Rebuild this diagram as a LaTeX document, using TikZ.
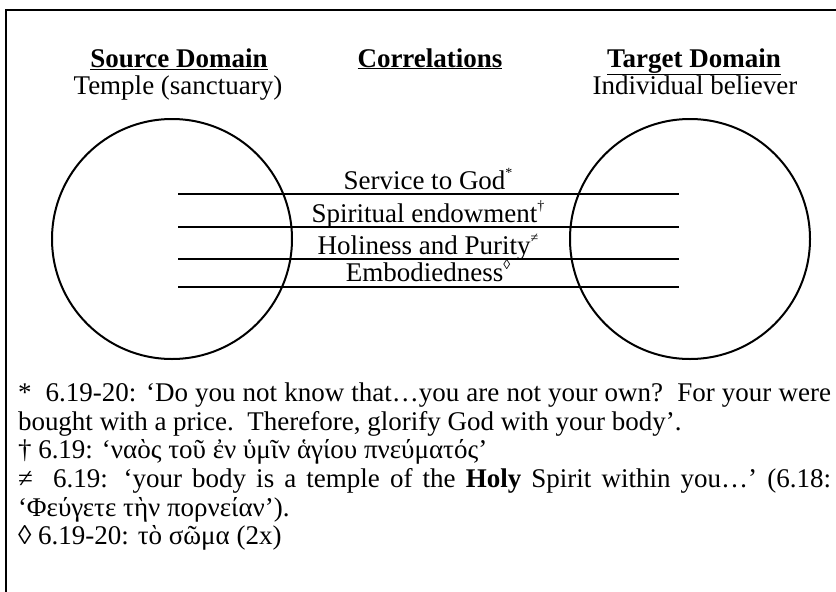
\documentclass[tikz,border=0pt]{standalone}
\usepackage{fontspec}
\setmainfont{Liberation Serif}
\begin{document}
\begin{tikzpicture}[x=1pt,y=-1pt,
  every node/.style={inner sep=0pt,outer sep=0pt,font=\fontsize{27}{29}\selectfont},
  domaincircle/.style={circle,draw,line width=2pt,minimum size=240pt},
  headtext/.style={anchor=base,font=\fontsize{27}{29}\selectfont\bfseries},
  subtext/.style={anchor=base},
  corrtext/.style={anchor=base},
  notetext/.style={anchor=base west},
  corrline/.style={line width=2pt}]
\newcommand\fnmark[1]{\raisebox{12pt}{\fontsize{14}{14}\selectfont #1}}
\clip (0,0) rectangle (836,592);
\fill[white] (0,0) rectangle (836,592);
% outer frame, running past the right and bottom edges
\draw[line width=2pt] (6,640) -- (6,10) -- (900,10);

% column headings
\node[headtext] (src) at (179,67) {\underline{Source Domain}};
\node[subtext] (srcsub) at (178,94) {Temple (sanctuary)};
\node[headtext] (cor) at (430,67) {\underline{Correlations}};
\node[headtext] (tgt) at (694,67) {\underline{Target Domain}};
\node[subtext] (tgtsub) at (695,94) {Individual believer};

% the two domains
\node[domaincircle] (left) at (172,239) {};
\node[domaincircle] (right) at (690,239) {};

% correlation lines
\foreach \i/\y in {1/194,2/227,3/259,4/287}{
  \coordinate (a\i) at (178,\y);
  \coordinate (b\i) at (679,\y);
  \draw[corrline] (a\i) -- (b\i);
}

% correlation labels
\node[corrtext] (c1) at (428,189) {Service to God\fnmark{*}};
\node[corrtext] (c2) at (428,222) {Spiritual endowment\fnmark{†}};
\node[corrtext] (c3) at (428,254) {Holiness and Purity\fnmark{≠}};
\node[corrtext] (c4) at (428,281) {Embodiedness\fnmark{◊}};

% notes
\node[notetext] (n1) at (18,401) {\hbox to 813pt{*\ \ 6.19-20: ‘Do you not know that…you are not your own?\ \ For your were}};
\node[notetext] (n2) at (18,430) {bought with a price.\ \ Therefore, glorify God with your body’.};
\node[notetext] (n3) at (18,458) {† 6.19: ‘ναὸς τοῦ ἐν ὑμῖν ἁγίου πνεύματός’};
\node[notetext] (n4) at (18,487) {\hbox to 813pt{≠\ \ 6.19: ‘your body is a temple of the \textbf{Holy} Spirit within you…’ (6.18:}};
\node[notetext] (n5) at (18,516) {‘Φεύγετε τὴν πορνείαν’).};
\node[notetext] (n6) at (18,544) {◊ 6.19-20: τὸ σῶμα (2x)};
\end{tikzpicture}
\end{document}
